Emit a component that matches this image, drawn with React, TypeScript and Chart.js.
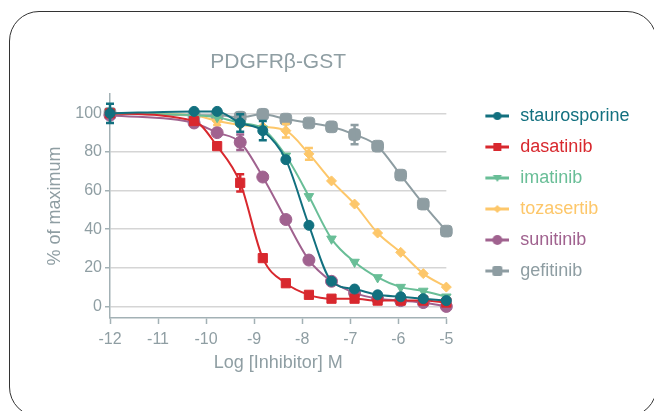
import React, { useEffect, useRef } from 'react';
import { Chart, registerables } from 'chart.js';

Chart.register(...registerables);

const FONT = "'Liberation Sans', Arial, Helvetica, sans-serif";
const TITLE = 'PDGFRβ-GST';
const X_TITLE = 'Log [Inhibitor] M';
const Y_TITLE = '% of maximum';

// log molar concentration of each well
const logConc = [-12, -10.25, -9.77, -9.29, -8.82, -8.34, -7.86, -7.39, -6.91, -6.43, -5.95, -5.48, -5];
const xTickValues = [-12, -11, -10, -9, -8, -7, -6, -5];
const yTickValues = [0, 20, 40, 60, 80, 100];

const seriesNames = ['staurosporine', 'dasatinib', 'imatinib', 'tozasertib', 'sunitinib', 'gefitinib'];
const seriesColors = ['#12707f', '#d8282e', '#69be97', '#fdc76a', '#a0628f', '#8e9da2'];

const staurosporine = [100, 101, 101, 95, 91, 76, 42, 13, 9, 6, 5, 4, 3];
const dasatinib = [100, 96, 83, 64, 25, 12, 6, 4, 4, 3, 3, 3, 2];
const imatinib = [100, 99, 98, 95, 92, 78, 57, 35, 23, 15, 10, 8, 5];
const tozasertib = [100, 99, 96, 94, 93, 91, 79, 65, 53, 38, 28, 17, 10];
const sunitinib = [99, 95, 90, 85, 67, 45, 24, 13, 7, 4, 3, 2, 0];
const gefitinib = [100, 99, 99, 98, 99.5, 97, 95, 93, 89, 83, 68, 53, 39];

const staurosporineErr = [5, 0, 0, 4.5, 5, 0, 0, 0, 0, 0, 0, 0, 0];
const dasatinibErr = [0, 0, 0, 4.5, 0, 0, 0, 0, 0, 0, 0, 0, 0];
const imatinibErr = [0, 0, 0, 0, 0, 0, 0, 0, 0, 0, 0, 0, 0];
const tozasertibErr = [0, 0, 2, 0, 0, 3.5, 3, 0, 0, 0, 0, 0, 0];
const sunitinibErr = [0, 0, 0, 4, 0, 0, 0, 0, 0, 0, 0, 0, 0];
const gefitinibErr = [0, 0, 0, 0, 0, 0, 0, 0, 5, 0, 0, 0, 0];

const seriesValues = [staurosporine, dasatinib, imatinib, tozasertib, sunitinib, gefitinib];
const seriesErrors = [staurosporineErr, dasatinibErr, imatinibErr, tozasertibErr, sunitinibErr, gefitinibErr];

const pointStyles = ['circle', 'rect', 'triangle', 'rectRot', 'circle', 'rectRounded'];
const pointRotations = [0, 0, 180, 0, 0, 0];
const pointRadii = [5, 6.5, 5.5, 5, 6, 6.8];

const TEXT_COLOR = '#8f9ea3';
const AXIS_COLOR = '#a3b1b5';
const GRID_COLOR = '#d5d5d5';

const errorBarPlugin = {
  id: 'errorBars',
  afterDatasetDraw(chart: any, args: any) {
    const ds = chart.data.datasets[args.index];
    const errs = seriesErrors[args.index];
    if (!errs) return;
    const xs = chart.scales.x;
    const ys = chart.scales.y;
    const ctx = chart.ctx;
    ctx.save();
    ctx.strokeStyle = ds.borderColor;
    ctx.lineWidth = 2.5;
    ds.data.forEach((p: any, i: number) => {
      const e = errs[i];
      if (!e) return;
      const x = xs.getPixelForValue(p.x);
      const y1 = ys.getPixelForValue(p.y + e);
      const y2 = ys.getPixelForValue(p.y - e);
      ctx.beginPath();
      ctx.moveTo(x, y1);
      ctx.lineTo(x, y2);
      ctx.moveTo(x - 4, y1);
      ctx.lineTo(x + 4, y1);
      ctx.moveTo(x - 4, y2);
      ctx.lineTo(x + 4, y2);
      ctx.stroke();
    });
    ctx.restore();
  },
};

function makeIcon(color: string, idx: number): HTMLCanvasElement {
  const c = document.createElement('canvas');
  c.width = 48;
  c.height = 16;
  const g = c.getContext('2d') as CanvasRenderingContext2D;
  g.strokeStyle = color;
  g.fillStyle = color;
  g.lineWidth = 3;
  g.beginPath();
  g.moveTo(24, 8);
  g.lineTo(48, 8);
  g.stroke();
  const cx = 36;
  const cy = 8;
  g.beginPath();
  switch (idx) {
    case 0:
      g.arc(cx, cy, 4, 0, Math.PI * 2);
      break;
    case 1:
      g.rect(cx - 4, cy - 4, 8, 8);
      break;
    case 2:
      g.moveTo(cx - 4.5, cy - 3);
      g.lineTo(cx + 4.5, cy - 3);
      g.lineTo(cx, cy + 4);
      g.closePath();
      break;
    case 3:
      g.moveTo(cx, cy - 4);
      g.lineTo(cx + 4, cy);
      g.lineTo(cx, cy + 4);
      g.lineTo(cx - 4, cy);
      g.closePath();
      break;
    case 4:
      g.arc(cx, cy, 5, 0, Math.PI * 2);
      break;
    default:
      if ((g as any).roundRect) (g as any).roundRect(cx - 5, cy - 5, 10, 10, 2);
      else g.rect(cx - 5, cy - 5, 10, 10);
  }
  g.fill();
  return c;
}

export default function App() {
  const ref = useRef<HTMLCanvasElement | null>(null);

  useEffect(() => {
    if (!ref.current) return;
    const icons = seriesColors.map((c, i) => makeIcon(c, i));
    const datasets = seriesNames.map((name, i) => ({
      label: name,
      data: logConc.map((x, j) => ({ x, y: seriesValues[i][j] })),
      borderColor: seriesColors[i],
      backgroundColor: seriesColors[i],
      borderWidth: 2,
      pointStyle: pointStyles[i],
      pointRotation: pointRotations[i],
      pointRadius: pointRadii[i],
      pointBorderWidth: 1,
      cubicInterpolationMode: 'monotone',
      clip: false,
    }));

    const chart = new Chart(ref.current, {
      type: 'line',
      data: { datasets } as any,
      plugins: [errorBarPlugin],
      options: {
        animation: false,
        responsive: true,
        maintainAspectRatio: false,
        layout: { padding: { left: 0, right: 14.6, top: 0, bottom: 33 } },
        scales: {
          x: {
            type: 'linear',
            min: -12,
            max: -5,
            afterBuildTicks: (s: any) => {
              s.ticks = xTickValues.map((v) => ({ value: v }));
            },
            ticks: {
              color: TEXT_COLOR,
              font: { family: FONT, size: 16 },
              padding: 6,
              autoSkip: false,
              maxRotation: 0,
            },
            grid: { drawOnChartArea: false, drawTicks: true, tickLength: 6, tickColor: AXIS_COLOR, tickWidth: 1.5 },
            border: { display: true, color: AXIS_COLOR, width: 1.5 },
            title: {
              display: true,
              text: X_TITLE,
              color: TEXT_COLOR,
              font: { family: FONT, size: 18 },
              padding: { top: 0, bottom: 4.2 },
            },
            afterFit: (s: any) => {
              s.height = 60;
            },
          },
          y: {
            type: 'linear',
            min: -6,
            max: 110,
            afterBuildTicks: (s: any) => {
              s.ticks = yTickValues.map((v) => ({ value: v }));
            },
            ticks: {
              color: TEXT_COLOR,
              font: { family: FONT, size: 16 },
              padding: 3,
            },
            grid: { color: GRID_COLOR, lineWidth: 1.5, tickColor: AXIS_COLOR, tickLength: 5, tickWidth: 1.5 },
            border: { display: true, color: AXIS_COLOR, width: 1.5 },
            title: {
              display: true,
              text: Y_TITLE,
              color: TEXT_COLOR,
              font: { family: FONT, size: 18 },
              padding: { top: 44.2, bottom: 0 },
            },
            afterFit: (s: any) => {
              s.width = 110;
            },
          },
        },
        plugins: {
          tooltip: { enabled: false },
          title: {
            display: true,
            text: TITLE,
            position: 'top',
            fullSize: false,
            color: TEXT_COLOR,
            font: { family: FONT, size: 21, weight: 'normal' },
            padding: { top: 49.4, bottom: 19.4 },
          },
          legend: {
            position: 'right',
            align: 'start',
            fullSize: false,
            maxWidth: 300,
            labels: {
              usePointStyle: true,
              pointStyleWidth: 52,
              padding: 13,
              font: { family: FONT, size: 18 },
              generateLabels: (c: any) => {
                const items = (Chart.defaults.plugins.legend.labels as any).generateLabels(c);
                return items.map((it: any, i: number) => ({
                  ...it,
                  fontColor: seriesColors[i],
                  pointStyle: icons[i],
                  rotation: 0,
                }));
              },
            },
          },
        },
      } as any,
    });
    return () => chart.destroy();
  }, []);

  return (
    <div style={{ position: 'fixed', left: 0, top: 0, width: 654, height: 411, background: '#fff' }}>
      <div
        style={{
          position: 'absolute',
          left: 9,
          top: 11,
          width: 648,
          height: 406,
          border: '1px solid #333',
          borderRadius: 30,
          boxSizing: 'border-box',
          pointerEvents: 'none',
        }}
      />
      <div style={{ position: 'absolute', left: 0, top: 0, width: 654, height: 411 }}>
        <canvas ref={ref} />
      </div>
    </div>
  );
}
